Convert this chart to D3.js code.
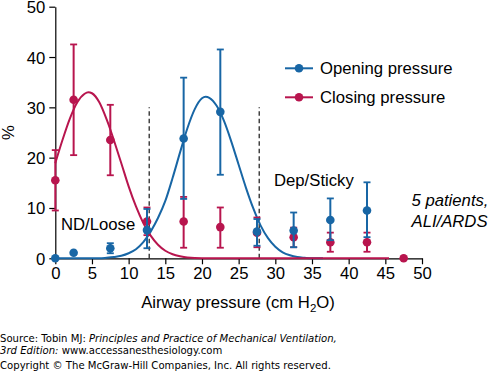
<!doctype html>
<html>
<head>
	<script src="https://d3js.org/d3.v7.min.js"></script>
	<style>
		body { margin: 0; background: #fff; }
		text { font-family: "Liberation Sans", Arial, sans-serif; }
	</style>
</head>
<body>
	<div id="viz">
		<svg style="width:490px;height:372px;display:block;"></svg>
	</div>
	<script>

		// bin centres (cm H2O)
		var pressures = [0, 2.5, 7.5, 12.5, 17.5, 22.5, 27.5, 32.5, 37.5, 42.5, 47.5];

		// Opening pressure: mean, low, high (%)
		var openMean = [0, 1.1, 2.0, 5.6, 23.8, 29.1, 5.3, 5.5, 7.6, 9.5, null];
		var openLow  = [null, null, 1.0, 2.0, 11.8, 16.6, 2.5, 2.2, 3.6, 4.2, null];
		var openHigh = [null, null, 3.0, 9.8, 35.9, 41.5, 7.8, 9.1, 11.9, 15.1, null];

		// Closing pressure: mean, low, high (%)
		var closeMean = [15.5, 31.5, 23.5, 7.3, 7.3, 6.2, 5.1, 4.2, 3.2, 3.2, 0];
		var closeLow  = [9.5, 20.5, 16.5, 4.6, 2.1, 2.1, 2.2, 2.2, 1.3, 1.3, null];
		var closeHigh = [21.5, 42.5, 30.5, 10.1, 12.2, 10.1, 8.1, 6.1, 5.1, 5.1, null];

		// fitted curves
		var openCurveX = [0, 6, 7, 8, 9, 10, 11, 12, 13, 14, 15, 16, 17, 18, 19, 20, 20.5, 21, 22, 23, 24, 25, 26, 27, 28, 29, 30, 31, 32, 33, 34, 35, 36.5];
		var openCurveY = [0, 0, 0.1, 0.25, 0.5, 1.0, 1.8, 3.2, 5.3, 8.0, 11.4, 16.0, 21.0, 25.8, 29.6, 31.8, 32.1, 31.9, 30.3, 27.3, 23.2, 18.6, 14.0, 9.9, 6.5, 4.0, 2.3, 1.2, 0.6, 0.25, 0.1, 0, 0];

		var closeCurveX = [0, 1, 2, 3, 4, 4.5, 5, 6, 7, 7.5, 8, 9, 10, 11, 12, 13, 14, 15, 16, 17, 18, 20, 45.5];
		var closeCurveY = [18.9, 23.6, 27.8, 31.0, 32.7, 33.0, 32.8, 31.0, 27.6, 25.6, 23.4, 18.9, 14.3, 10.3, 7.0, 4.5, 2.7, 1.5, 0.8, 0.4, 0.15, 0, 0];

		var xTicks = [0, 5, 10, 15, 20, 25, 30, 35, 40, 45, 50];
		var yTicks = [0, 10, 20, 30, 40, 50];

		// zone boundaries
		var zoneLines = [12.8, 27.8];
		var zoneTop = 30;

		var blue = "#1866a5";
		var red = "#b8154e";
		var fs = "16.7px";

		var svg = d3.select("svg");

		var xScale = d3.scaleLinear()
								 .domain([0, 50])
								 .range([55.3, 422]);

		var yScale = d3.scaleLinear()
								 .domain([0, 50])
								 .range([258.3, 6.7]);

		// Axes
		var xAxis = d3.axisBottom(xScale).tickValues(xTicks).tickSize(6).tickSizeOuter(0).tickPadding(3);
		var yAxis = d3.axisLeft(yScale).tickValues(yTicks).tickSize(6).tickSizeOuter(0).tickPadding(4);

		var xg = svg.append("g")
				.attr("transform", "translate(0," + yScale(0) + ")")
				.call(xAxis);

		var yg = svg.append("g")
				.attr("transform", "translate(" + xScale(0) + ",0)")
				.call(yAxis);

		[xg, yg].forEach(g => {
			g.selectAll("path, line").attr("stroke", "#000").attr("stroke-width", 1.2);
			g.selectAll("text").attr("fill", "#000").style("font-size", fs)
				.style("font-family", "'Liberation Sans', Arial, sans-serif");
		});
		yg.selectAll("text").attr("dy", "0.36em");

		// dashed zone lines
		svg.selectAll(".zone")
			.data(zoneLines)
			.enter()
			.append("line")
				.attr("x1", d => xScale(d))
				.attr("x2", d => xScale(d))
				.attr("y1", yScale(0))
				.attr("y2", yScale(zoneTop))
				.attr("stroke", "#000")
				.attr("stroke-width", 1.1)
				.attr("stroke-dasharray", "4.5,3");

		var line = d3.line()
				.x(d => xScale(d[0]))
				.y(d => yScale(d[1]))
				.curve(d3.curveMonotoneX);

		svg.append("path")
			.datum(openCurveX.map((x, i) => [x, openCurveY[i]]))
			.attr("d", line)
			.attr("fill", "none")
			.attr("stroke", blue)
			.attr("stroke-width", 2);

		svg.append("path")
			.datum(closeCurveX.map((x, i) => [x, closeCurveY[i]]))
			.attr("d", line)
			.attr("fill", "none")
			.attr("stroke", red)
			.attr("stroke-width", 2);

		function drawSeries(mean, low, high, color) {
			var rows = pressures.map((p, i) => ({p: p, m: mean[i], lo: low[i], hi: high[i]}));
			var withBars = rows.filter(d => d.lo != null);
			var g = svg.append("g");

			g.selectAll(".bar")
				.data(withBars)
				.enter()
				.append("line")
					.attr("x1", d => xScale(d.p))
					.attr("x2", d => xScale(d.p))
					.attr("y1", d => yScale(d.lo))
					.attr("y2", d => yScale(d.hi))
					.attr("stroke", color)
					.attr("stroke-width", 2);

			["lo", "hi"].forEach(k => {
				g.selectAll(".cap-" + k)
					.data(withBars)
					.enter()
					.append("line")
						.attr("x1", d => xScale(d.p) - 3.5)
						.attr("x2", d => xScale(d.p) + 3.5)
						.attr("y1", d => yScale(d[k]))
						.attr("y2", d => yScale(d[k]))
						.attr("stroke", color)
						.attr("stroke-width", 1.8);
			});

			g.selectAll("circle")
				.data(rows.filter(d => d.m != null))
				.enter()
				.append("circle")
					.attr("cx", d => xScale(d.p))
					.attr("cy", d => yScale(d.m))
					.attr("r", 4.3)
					.attr("fill", color);
		}

		drawSeries(closeMean, closeLow, closeHigh, red);
		drawSeries(openMean, openLow, openHigh, blue);

		// legend
		var legend = [
			{name: "Opening pressure", color: blue, y: 68.3},
			{name: "Closing pressure", color: red, y: 97.3}
		];
		var lg = svg.selectAll(".legend")
			.data(legend)
			.enter()
			.append("g")
				.attr("transform", d => "translate(285," + d.y + ")");
		lg.append("line")
			.attr("x1", 0).attr("x2", 28)
			.attr("stroke", d => d.color)
			.attr("stroke-width", 2);
		lg.append("circle")
			.attr("cx", 14).attr("r", 4.3)
			.attr("fill", d => d.color);
		lg.append("text")
			.attr("x", 35).attr("y", 5.8)
			.style("font-size", fs)
			.text(d => d.name);

		// annotations
		svg.append("text").attr("x", 61).attr("y", 230).style("font-size", fs).text("ND/Loose");
		svg.append("text").attr("x", 274).attr("y", 186).style("font-size", fs).text("Dep/Sticky");
		svg.append("text").attr("x", 411.5).attr("y", 206).style("font-size", fs).style("font-style", "italic").text("5 patients,");
		svg.append("text").attr("x", 411.5).attr("y", 227).style("font-size", fs).style("font-style", "italic").text("ALI/ARDS");

		// axis titles
		svg.append("text")
			.attr("transform", "translate(14," + yScale(25) + ") rotate(-90)")
			.attr("text-anchor", "middle")
			.style("font-size", fs)
			.text("%");

		var xt = svg.append("text")
			.attr("x", 238)
			.attr("y", 308)
			.attr("text-anchor", "middle")
			.style("font-size", fs);
		xt.append("tspan").text("Airway pressure (cm H");
		xt.append("tspan").attr("dy", 4).style("font-size", "11.5px").text("2");
		xt.append("tspan").attr("dy", -4).text("O)");

		// source note
		var srcFont = "'DejaVu Sans', Verdana, sans-serif";
		var src = svg.append("g").style("font-size", "10.1px");
		var s1 = src.append("text").attr("x", 0).attr("y", 341.5).style("font-family", srcFont);
		s1.append("tspan").text("Source: Tobin MJ: ");
		s1.append("tspan").style("font-style", "italic").text("Principles and Practice of Mechanical Ventilation,");
		var s2 = src.append("text").attr("x", 0).attr("y", 353.5).style("font-family", srcFont);
		s2.append("tspan").style("font-style", "italic").text("3rd Edition:");
		s2.append("tspan").text(" www.accessanesthesiology.com");
		src.append("text").attr("x", 0).attr("y", 369).style("font-family", srcFont)
			.text("Copyright \u00a9 The McGraw-Hill Companies, Inc. All rights reserved.");

	</script>
</body>
</html>
